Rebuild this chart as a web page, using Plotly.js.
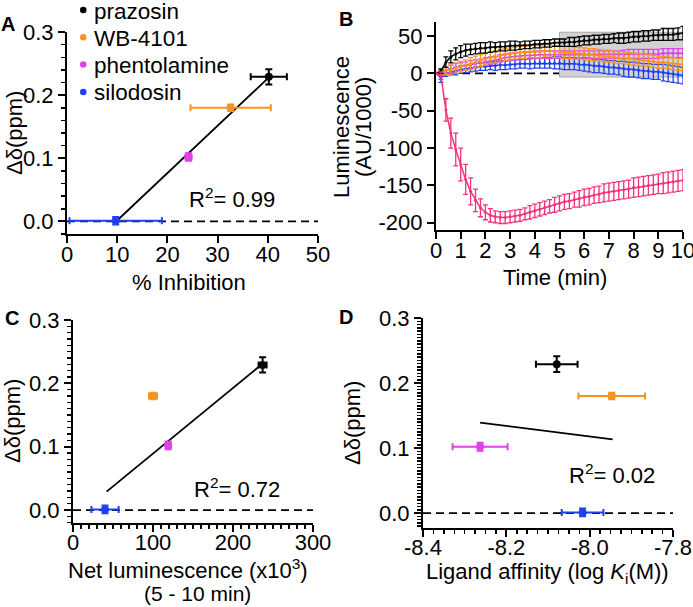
<!DOCTYPE html>
<html><head><meta charset="utf-8">
<script src="https://cdn.plot.ly/plotly-3.0.1.min.js"></script>
<style>html,body{margin:0;padding:0;background:#fff;}#chart{width:693px;height:607px;}</style>
</head><body><div id="chart"></div>
<script>
// ---------- data ----------
const compounds = ['prazosin', 'WB-4101', 'phentolamine', 'silodosin'];
const compoundColors = ['#000000', '#F7931E', '#E040E6', '#1E40F5'];
const pinkColor = '#F5307C';

const shiftPpm = [0.229, 0.180, 0.102, 0.001];
const shiftErr = [0.012, 0.005, 0.006, 0.006];
const inhibition = [40.2, 32.6, 24.2, 9.7];
const inhibitionErr = [3.6, 8.0, 0.6, 9.2];
const netLum = [237, 100, 119, 40];
const netLumErr = [5, 5, 3, 17];
const logKi = [-8.079, -7.947, -8.263, -8.017];
const logKiErr = [0.05, 0.08, 0.066, 0.05];

const fitA_x = [10.2, 40.2], fitA_y = [0.003, 0.228];
const fitC_x = [42, 238],   fitC_y = [0.029, 0.232];
const fitD_x = [-8.263, -7.945], fitD_y = [0.139, 0.1134];
const r2Labels = ['0.99', '0.72', '0.02'];

const time = [0,0.2,0.4,0.6,0.8,1.0,1.2,1.4,1.6,1.8,2.0,2.2,2.4,2.6,2.8,3.0,3.2,3.4,3.6,3.8,
  4.0,4.2,4.4,4.6,4.8,5.0,5.2,5.4,5.6,5.8,6.0,6.2,6.4,6.6,6.8,7.0,7.2,7.4,7.6,7.8,
  8.0,8.2,8.4,8.6,8.8,9.0,9.2,9.4,9.6,9.8,10.0];
const lumPrazosin = [0,3,15,22,26, 29,31,32,33,34, 34,35,35,36,36, 37,37,37,38,38,
  39,39,40,40,41, 41,41,42,42,43, 44,44,45,45,46, 46,47,47,47,48, 49,49,50,50,51, 51,52,52,52,53, 54];
const errPrazosin = [0,3,7,8,8, 8,8,7,7,7, 7,7,6,6,6, 6,6,5,5,5, 5,5,5,5,5, 5,5,6,6,6,
  6,6,6,6,6, 6,6,7,7,7, 7,7,7,7,7, 7,8,8,8,8, 9];
const lumWB = [0,1,3,5,7, 9,11,13,15,17, 19,21,22,24,25, 26,27,28,28,29, 29,29,30,30,29,
  29,28,28,27,27, 26,25,25,24,23, 23,22,21,21,20, 19,18,18,17,16, 15,15,14,13,12, 12];
const errWB = [0,3,5,6,7, 7,7,8,8,8, 8,8,8,8,8, 8,8,8,8,8, 8,8,8,8,8, 8,8,8,8,8,
  8,8,8,8,8, 8,8,8,8,8, 8,8,8,8,8, 8,8,8,8,8, 8];
const lumPhent = [0,2,4,6,8, 9,10,12,13,14, 16,17,18,20,21, 22,23,23,24,24, 25,25,25,25,25,
  25,25,25,25,25, 25,25,25,25,25, 25,25,25,25,26, 26,26,26,26,26, 26,27,27,27,27, 27];
const errPhent = [0,3,4,5,5, 5,5,5,5,5, 5,5,5,5,5, 5,5,5,5,5, 5,5,5,5,5, 5,5,5,5,5,
  5,5,5,5,5, 5,5,5,6,6, 6,6,6,6,6, 6,6,6,6,6, 6];
const lumSilo = [0,-6,0,2,3, 5,6,7,8,9, 9,10,10,11,11, 12,12,13,13,13, 14,14,14,14,14,
  14,13,13,13,12, 12,11,10,10,9, 8,8,7,6,5, 5,4,3,3,2, 2,1,0,-1,-2, -3];
const errSilo = [0,6,4,4,5, 5,5,5,5,5, 5,5,6,6,6, 6,6,6,6,7, 7,7,7,7,8, 8,8,8,8,8,
  9,9,9,9,9, 9,9,9,10,10, 10,10,10,10,10, 10,11,11,11,11, 11];
const lumPink = [0,-3,-49,-80,-102, -122,-142,-158,-170,-180, -186,-190,-192,-193,-193,
  -192,-191,-190,-188,-186, -184,-182,-180,-178,-176, -174,-172,-171,-169,-168,
  -166,-165,-163,-162,-160, -159,-158,-157,-156,-155, -153,-152,-151,-150,-149,
  -148,-147,-146,-145,-144, -143];
const errPink = [0,5,15,20,22, 22,20,18,15,12, 10,9,8,8,8, 8,8,8,8,9, 9,9,9,9,10,
  10,10,10,10,11, 11,11,11,11,12, 12,12,12,12,12, 13,13,13,13,13, 13,14,14,14,14, 14];
const windowMin = [5, 10];           // integration window (min)
const windowLum = [-5, 55];

const ticksA_x = [0, 10, 20, 30, 40, 50];
const ticksPpm = [0, 0.1, 0.2, 0.3];
const ticksPpmText = ['0.0', '0.1', '0.2', '0.3'];
const ticksTime = [0,1,2,3,4,5,6,7,8,9,10];
const ticksLum = [-200, -150, -100, -50, 0, 50];
const ticksLumText = ['-200', '-150', '-100', '-50', '0', '50'];
const ticksNet = [0, 100, 200, 300];
const ticksKi = [-8.4, -8.2, -8.0, -7.8];
const ticksKiText = ['-8.4', '-8.2', '-8.0', '-7.8'];

// ---------- layout helpers ----------
const W = 693, H = 607;
const FONT = 'Liberation Sans, Arial, Helvetica, sans-serif';
const px = v => v / W, py = v => 1 - v / H;

function axis(extra) {
  return Object.assign({
    showline: true, linecolor: '#000', linewidth: 2,
    ticks: 'outside', ticklen: 7, tickwidth: 2, tickcolor: '#000',
    showgrid: false, zeroline: false, fixedrange: true, ticklabeloverflow: 'allow',
    tickfont: {family: FONT, size: 22, color: '#000'}
  }, extra);
}
const titleFont = {family: FONT, size: 22, color: '#000'};
function minor(dt, t0) { return {dtick: dt, tick0: t0, ticks: 'outside', ticklen: 4, tickwidth: 1.5, tickcolor: '#000'}; }

const traces = [];
[[fitA_x, fitA_y, 'x', 'y'], [fitC_x, fitC_y, 'x3', 'y3'], [fitD_x, fitD_y, 'x4', 'y4']].forEach(f => {
  traces.push({type: 'scatter', mode: 'lines', x: f[0], y: f[1], xaxis: f[2], yaxis: f[3],
    line: {color: '#000', width: 1.8}, showlegend: false, hoverinfo: 'skip'});
});
const panels = [
  {xs: inhibition, xe: inhibitionErr, xa: 'x', ya: 'y'},
  {xs: netLum, xe: netLumErr, xa: 'x3', ya: 'y3'},
  {xs: logKi, xe: logKiErr, xa: 'x4', ya: 'y4'}
];
panels.forEach(p => {
  compounds.forEach((name, i) => {
    traces.push({type: 'scatter', mode: 'markers', name: name, x: [p.xs[i]], y: [shiftPpm[i]],
      xaxis: p.xa, yaxis: p.ya, showlegend: false,
      marker: {color: compoundColors[i], size: 8},
      error_x: {type: 'data', array: [p.xe[i]], color: compoundColors[i], thickness: 2, width: 3.5},
      error_y: {type: 'data', array: [shiftErr[i]], color: compoundColors[i], thickness: 2, width: 3.5}});
  });
});
const series = [
  [lumSilo, errSilo, compoundColors[3]],
  [lumPhent, errPhent, compoundColors[2]],
  [lumWB, errWB, compoundColors[1]],
  [lumPrazosin, errPrazosin, compoundColors[0]],
  [lumPink, errPink, pinkColor]
];
series.forEach(s => {
  traces.push({type: 'scatter', mode: 'lines+markers', x: time, y: s[0], xaxis: 'x2', yaxis: 'y2',
    line: {color: s[2], width: 1.5}, marker: {color: s[2], size: 3}, showlegend: false,
    error_y: {type: 'data', array: s[1], color: s[2], thickness: 1.3, width: 2.5}});
});

const dash = {color: '#000', width: 1.8, dash: '8px,5px'};
const shapes = [
  {type: 'rect', xref: 'x2', yref: 'y2', x0: windowMin[0], x1: windowMin[1], y0: windowLum[0], y1: windowLum[1],
   fillcolor: '#d3d3d3', line: {color: '#a8a8a8', width: 1}, layer: 'below'},
  {type: 'line', xref: 'x domain', yref: 'y', x0: 0, x1: 1, y0: 0, y1: 0, line: dash, layer: 'below'},
  {type: 'line', xref: 'x2 domain', yref: 'y2', x0: 0, x1: 1, y0: 0, y1: 0, line: dash, layer: 'below'},
  {type: 'line', xref: 'x3 domain', yref: 'y3', x0: 0, x1: 1, y0: 0, y1: 0, line: dash, layer: 'below'},
  {type: 'line', xref: 'x4 domain', yref: 'y4', x0: 0, x1: 1, y0: 0, y1: 0, line: dash, layer: 'below'}
];

const annotations = [];
function ann(text, x, y, opts) {
  annotations.push(Object.assign({text: text, xref: 'paper', yref: 'paper', x: px(x), y: py(y),
    xanchor: 'center', yanchor: 'middle', showarrow: false, font: titleFont}, opts || {}));
}
compounds.forEach((name, i) => {
  const yy = 10 + i * 27.3;
  shapes.push({type: 'circle', xref: 'paper', yref: 'paper', x0: px(80), x1: px(86.5),
    y0: py(yy + 3.25), y1: py(yy - 3.25), fillcolor: compoundColors[i], line: {width: 0}});
  ann(name, 92, yy + 1, {xanchor: 'left', font: {family: FONT, size: 22.5, color: '#000'}});
});
const letterFont = {family: FONT, size: 20, color: '#000'};
ann('<b>A</b>', 8, 24, {font: letterFont});
ann('<b>B</b>', 346, 19, {font: letterFont});
ann('<b>C</b>', 12, 318, {font: letterFont});
ann('<b>D</b>', 346, 317, {font: letterFont});
ann('R<sup>2</sup>= ' + r2Labels[0], 232, 198);
ann('R<sup>2</sup>= ' + r2Labels[1], 237, 488);
ann('R<sup>2</sup>= ' + r2Labels[2], 612, 474);
// axis titles
ann('% Inhibition', 189, 282);
ann('Δδ(ppm)', 14, 133, {textangle: -90});
ann('Time (min)', 555, 277);
ann('Luminescence', 342, 127, {textangle: -90});
ann('(AU/1000)', 364, 127, {textangle: -90});
ann('Net luminescence (x10<sup>3</sup>)', 188, 569);
ann('(5 - 10 min)', 197, 593, {font: {family: FONT, size: 21, color: '#000'}});
ann('Δδ(ppm)', 12, 421, {textangle: -90});
ann('Ligand affinity (log <i>K</i><sub>i</sub>(M))', 547, 573);
ann('Δδ(ppm)', 352, 423, {textangle: -90});

const layout = {
  width: W, height: H, margin: {l: 0, r: 0, t: 0, b: 0},
  paper_bgcolor: '#fff', plot_bgcolor: 'rgba(0,0,0,0)', showlegend: false,
  font: {family: FONT, color: '#000'},
  xaxis: axis({domain: [px(67), px(318)], range: [0, 50], tickvals: ticksA_x, anchor: 'y',
    ticklabelstandoff: -7}),
  yaxis: axis({domain: [py(234), py(32)], range: [-0.02, 0.3], tickvals: ticksPpm, ticktext: ticksPpmText,
    anchor: 'x', minor: minor(0.02, 0)}),
  xaxis2: axis({domain: [px(436), px(683)], range: [0, 10], tickvals: ticksTime, anchor: 'y2',
    ticklabelstandoff: -8}),
  yaxis2: axis({domain: [py(230.2), py(21.8)], range: [-210, 69], tickvals: ticksLum, ticktext: ticksLumText,
    anchor: 'x2'}),
  xaxis3: axis({domain: [px(73), px(313)], range: [0, 300], tickvals: ticksNet, anchor: 'y3',
    ticklabelstandoff: -8, minor: minor(10, 0)}),
  yaxis3: axis({domain: [py(522.7), py(320)], range: [-0.02, 0.3], tickvals: ticksPpm, ticktext: ticksPpmText,
    anchor: 'x3', minor: minor(0.01, 0)}),
  xaxis4: axis({domain: [px(423), px(673)], range: [-8.4, -7.8], tickvals: ticksKi, ticktext: ticksKiText,
    anchor: 'y4', ticklabelstandoff: -8, minor: minor(0.025, -8.4)}),
  yaxis4: axis({domain: [py(528), py(318)], range: [-0.023, 0.3], tickvals: ticksPpm, ticktext: ticksPpmText,
    anchor: 'x4', minor: minor(0.005, 0)}),
  shapes: shapes,
  annotations: annotations
};

Plotly.newPlot('chart', traces, layout, {staticPlot: true, displayModeBar: false});
</script></body></html>
